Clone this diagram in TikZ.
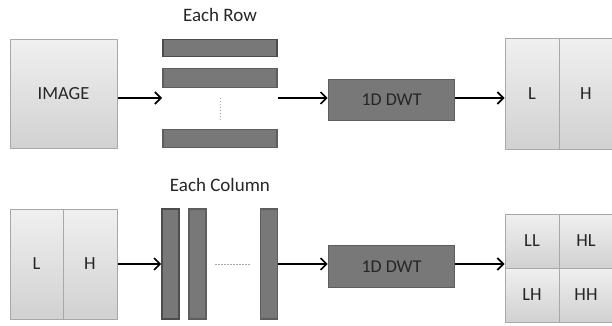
\documentclass[tikz,border=0pt]{standalone}
\usepackage{fontspec}
\setmainfont{Carlito}
\usetikzlibrary{arrows.meta}

\definecolor{panelline}{HTML}{A8A8A8}
\definecolor{bartone}{HTML}{787878}
\definecolor{barline}{HTML}{5E5E5E}
\definecolor{inktext}{HTML}{262626}

\tikzset{
  panel/.style={draw=panelline, line width=1pt, top color=gray!12, bottom color=gray!36,
    inner sep=0pt, text=inktext, font=\fontsize{18.5}{22}\selectfont},
  bar/.style={draw=barline, line width=1.6pt, fill=bartone, inner sep=0pt},
  flow/.style={line width=1.8pt, -{Straight Barb[length=6pt,width=12pt,line width=1.6pt]}},
  title/.style={text=inktext, font=\fontsize{19}{22}\selectfont},
}

\begin{document}
\begin{tikzpicture}[x=1pt, y=-1pt]
        \useasboundingbox (0,0) rectangle (612,326);
        % row pass
        \node[title] (rowtitle) at (220,15) {Each Row};
        \node[panel, minimum width=107pt, minimum height=108pt] (image) at (63.5,94) {IMAGE};
        \node[bar, draw=black!70, minimum width=114pt, minimum height=17pt] (row1) at (220,48) {};
        \node[bar, minimum width=114pt, minimum height=19pt] (row2) at (220,78) {};
        \node[bar, minimum width=114pt, minimum height=18pt] (row3) at (220,138.5) {};
        \coordinate (rowin) at (162,98);
        \coordinate (rowout) at (278,98);
        \node[bar, minimum width=126pt, minimum height=41pt, text=inktext,
              font=\fontsize{18}{21}\selectfont] (dwt1) at (391.5,100) {1D DWT};
        \node[panel, minimum width=54pt, minimum height=110pt] (lo1) at (532,94) {L};
        \node[panel, minimum width=54pt, minimum height=110pt] (hi1) at (586,94) {H};
        \draw[panelline, dotted, line width=1pt, shorten <=10pt, shorten >=9pt] (row2.south) -- (row3.north);
        \draw[flow] (image.east |- rowin) -- (rowin);
        \draw[flow] (rowout) -- (dwt1.west |- rowout);
        \draw[flow] (dwt1.east |- rowout) -- (lo1.west |- rowout);

        % column pass
        \node[title] (coltitle) at (220,185) {Each Column};
        \node[panel, minimum width=53pt, minimum height=110pt] (lo2) at (36.5,264) {L};
        \node[panel, minimum width=54pt, minimum height=110pt] (hi2) at (90,264) {H};
        \node[bar, draw=black!70, minimum width=17pt, minimum height=110pt] (col1) at (170.5,264) {};
        \node[bar, minimum width=17pt, minimum height=110pt] (col2) at (197.5,264) {};
        \node[bar, minimum width=17pt, minimum height=110pt] (col3) at (269,264) {};
        \node[bar, minimum width=126pt, minimum height=42pt, text=inktext,
              font=\fontsize{18}{21}\selectfont] (dwt2) at (391.5,266.5) {1D DWT};
        \node[panel, minimum width=54pt, minimum height=54pt] (ll) at (532,241) {LL};
        \node[panel, minimum width=54pt, minimum height=54pt] (hl) at (586,241) {HL};
        \node[panel, minimum width=54pt, minimum height=54pt] (lh) at (532,295) {LH};
        \node[panel, minimum width=54pt, minimum height=54pt] (hh) at (586,295) {HH};
        \draw[panelline, dash pattern=on 2pt off 1pt, line width=1pt, shorten <=8pt, shorten >=9pt] (col2.east) -- (col3.west);
        \draw[flow] (hi2.east) -- (col1.west);
        \draw[flow] (col3.east) -- (dwt2.west |- col3.east);
        \draw[flow] (dwt2.east |- col3.east) -- (ll.west |- col3.east);
\end{tikzpicture}
\end{document}
